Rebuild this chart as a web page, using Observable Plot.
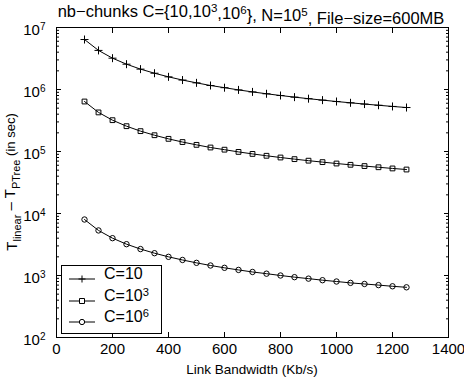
<!DOCTYPE html>
<html><head><meta charset="utf-8">
<script src="https://cdn.jsdelivr.net/npm/d3@7"></script>
<script src="https://cdn.jsdelivr.net/npm/@observablehq/plot@0.6"></script>
<style>body{margin:0;background:#fff}svg{font-family:"Liberation Sans",Arial,sans-serif}</style>
</head><body><div id="chart"></div>
<script>
const bandwidth = [100,150,200,250,300,350,400,450,500,550,600,650,700,750,800,850,900,950,1000,1050,1100,1150,1200,1250];
const c10 = [6.4e6,4.27e6,3.2e6,2.56e6,2.13e6,1.83e6,1.6e6,1.42e6,1.28e6,1.16e6,1.07e6,9.85e5,9.14e5,8.53e5,8.0e5,7.53e5,7.11e5,6.74e5,6.4e5,6.1e5,5.82e5,5.57e5,5.33e5,5.12e5];
const c1e3 = [6.4e5,4.27e5,3.2e5,2.56e5,2.13e5,1.83e5,1.6e5,1.42e5,1.28e5,1.16e5,1.07e5,9.85e4,9.14e4,8.53e4,8.0e4,7.53e4,7.11e4,6.74e4,6.4e4,6.1e4,5.82e4,5.57e4,5.33e4,5.12e4];
const c1e6 = [8000,5330,4000,3200,2670,2290,2000,1780,1600,1450,1330,1230,1140,1070,1000,940,890,840,800,760,730,700,670,645];
const seriesNames = ["C=10","C=10^3","C=10^6"];
const symbols = ["plus","square","circle"];
const xTicks = [0,200,400,600,800,1000,1200,1400];
const yTicks = [1e2,1e3,1e4,1e5,1e6,1e7];
const yMinor = [];
for (let e = 2; e < 7; e++) for (let m = 2; m <= 9; m++) yMinor.push(m * 10 ** e);

const seriesValues = [c10, c1e3, c1e6];
const data = seriesValues.flatMap((vals, i) => vals.map((v, j) => ({x: bandwidth[j], y: v, s: seriesNames[i], sym: symbols[i]})));

const blank = () => "";
const plot = Plot.plot({
  width: 464, height: 379,
  marginLeft: 56, marginRight: 16, marginTop: 27, marginBottom: 42,
  style: {fontFamily: '"Liberation Sans", Arial, sans-serif', fontSize: "15px", background: "#fff"},
  x: {domain: [0, 1400]},
  y: {type: "log", domain: [1e2, 1e7]},
  marks: [
    Plot.frame({stroke: "black", strokeWidth: 1}),
    Plot.axisX({anchor: "bottom", ticks: xTicks, tickSize: 0, tickPadding: 6, label: null, fill: "black", fontSize: 15, tickFormat: d => String(d)}),
    Plot.axisX({anchor: "bottom", ticks: xTicks, tickSize: -5, tickFormat: blank, label: null}),
    Plot.axisX({anchor: "top", ticks: xTicks, tickSize: -5, tickFormat: blank, label: null}),
    Plot.axisY({anchor: "left", ticks: yTicks, tickSize: 0, tickPadding: 11, dy: 3, label: null, tickFormat: d => String(Math.round(Math.log10(d))), fontSize: 15}),
    Plot.axisY({anchor: "left", ticks: yTicks, tickSize: -5, tickFormat: blank, label: null}),
    Plot.axisY({anchor: "right", ticks: yTicks, tickSize: -5, tickFormat: blank, label: null}),
    Plot.axisY({anchor: "left", ticks: yMinor, tickSize: -3, tickFormat: blank, label: null}),
    Plot.axisY({anchor: "right", ticks: yMinor, tickSize: -3, tickFormat: blank, label: null}),
    Plot.line(data, {x: "x", y: "y", z: "s", stroke: "black", strokeWidth: 1}),
    Plot.dot(data, {x: "x", y: "y", symbol: "sym", stroke: "black", fill: "none", r: 2.7, strokeWidth: 1})
  ]
});
document.getElementById("chart").appendChild(plot);
const svg = d3.select(plot);

// drop empty tick texts from tick-only axes
svg.selectAll("text").filter(function() { return this.textContent === ""; }).remove();

// superscript y tick labels
svg.selectAll('g[aria-label="y-axis tick label"] text').each(function() {
  const t = d3.select(this);
  const e = t.text();
  t.text(null);
  t.append("tspan").text("10");
  t.append("tspan").attr("dy", "-0.55em").attr("font-size", "10px").text(e);
});

function supText(sel, parts) {
  parts.forEach(p => {
    if (p.sup) sel.append("tspan").attr("dy", "-0.45em").attr("font-size", "0.7em").text(p.t);
    else sel.append("tspan").attr("dy", p.after ? "0.45em" : null).text(p.t);
  });
}

// title
const title = svg.append("text").attr("x", 251).attr("y", 17).attr("text-anchor", "middle").attr("font-size", 16.5).attr("fill", "black");
supText(title, [{t:"nb\u2212chunks C={10,10"},{t:"3",sup:true},{t:",10",after:true},{t:"6",sup:true},{t:"}, N=10",after:true},{t:"5",sup:true},{t:", File\u2212size=600MB",after:true}]);

// x label
svg.append("text").attr("x", 252).attr("y", 374).attr("text-anchor", "middle").attr("font-size", 13.5).attr("fill", "black").text("Link Bandwidth (Kb/s)");

// y label
const yl = svg.append("text").attr("transform", "translate(17,182) rotate(-90)").attr("text-anchor", "middle").attr("font-size", 15).attr("fill", "black");
yl.append("tspan").text("T");
yl.append("tspan").attr("dy", "0.4em").attr("font-size", "11px").text("linear");
yl.append("tspan").attr("dy", "-0.4em").text(" \u2013 T");
yl.append("tspan").attr("dy", "0.4em").attr("font-size", "11px").text("PTree");
yl.append("tspan").attr("dy", "-0.4em").attr("font-size", "13px").text(" (in sec)");

// legend
const lg = svg.append("g");
lg.append("rect").attr("x", 61.5).attr("y", 265.5).attr("width", 100).attr("height", 68).attr("fill", "white").attr("stroke", "black");
const ly = [279, 301, 322];
const legendLabels = [[{t:"C=10"}],[{t:"C=10"},{t:"3",sup:true}],[{t:"C=10"},{t:"6",sup:true}]];
const symPaths = ["M-3.5,0H3.5M0,-3.5V3.5", "M-2.5,-2.5H2.5V2.5H-2.5Z", d3.symbol(d3.symbolCircle, 22)()];
ly.forEach((y, i) => {
  lg.append("line").attr("x1", 69).attr("x2", 95).attr("y1", y).attr("y2", y).attr("stroke", "black");
  lg.append("path").attr("d", symPaths[i]).attr("transform", `translate(82,${y})`).attr("fill", "white").attr("stroke", "black");
  const t = lg.append("text").attr("x", 104).attr("y", y).attr("text-anchor", "start").attr("font-size", 16).attr("fill", "black");
  supText(t, legendLabels[i]);
});
</script></body></html>
